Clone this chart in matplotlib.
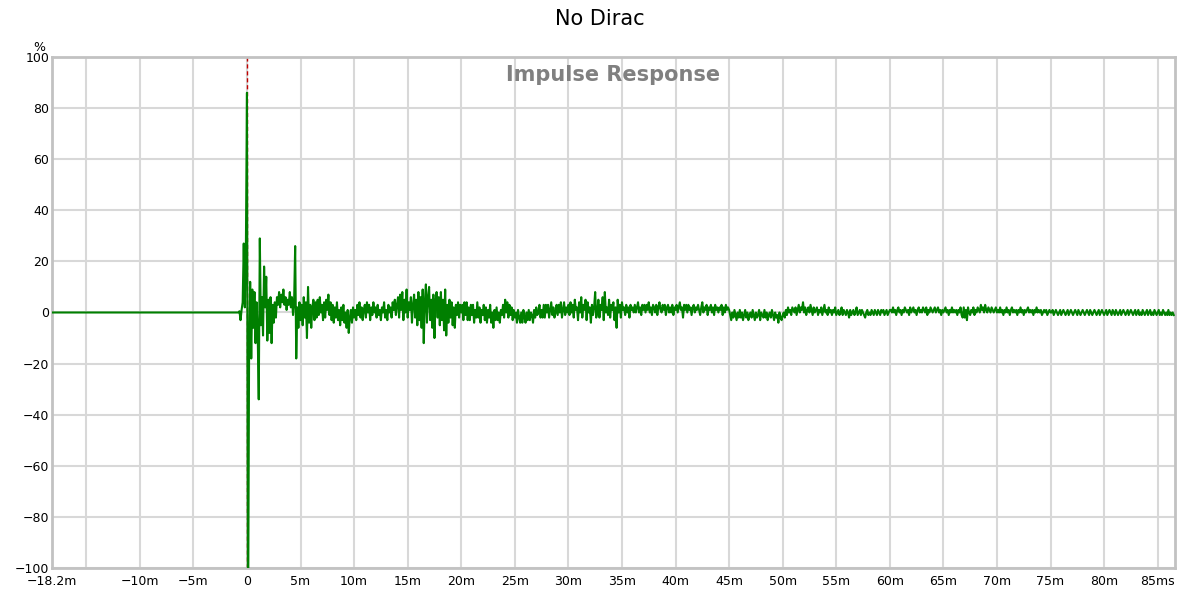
import numpy as np
import matplotlib
matplotlib.use("Agg")
import matplotlib.pyplot as plt

# impulse response, % of full scale
# flat lead-in before the arrival (time ms, value %)
pre_times = [-18.2, -0.8, -0.7, -0.6, -0.5, -0.4, -0.3, -0.2, -0.1]
pre_values = [0, 0, 0.5, -3, 1, 4, 27, 2, 25]

# from t = 0 ms on, one value every 0.1 ms
step_ms = 0.1
values = [
    # 0 - 10 ms
    86, -130, -14, 12, -18, 9, -6, 8, -12, 4,
    -8, -34, 29, -5, 6, -9, 18, 2, 14, -11,
    5, -8, 6, -12, 3, -4, 4, -2, 6, 3,
    8, 2, 7, 4, 9, 3, 6, 1, 5, 3,
    8, 2, 6, -1, 4, 26, -18, 2, -6, 4,
    -3, 3, -5, 6, -2, 4, -10, 10, -4, 3,
    -6, 2, 5, -3, 4, -2, 5, -1, 6, 0,
    3, -3, 4, -2, 5, 1, 7, -1, 4, -3,
    3, -4, 2, -2, 4, -3, 1, -5, 2, -3,
    3, -4, 0, -6, 1, -8, -2, 1, -4, 2,
    # 10 - 14 ms
    -2, 1, -3, 3, -1, 4, -2, 2, -3, 1,
    3, -2, 4, 0, 3, -3, 2, -1, 4, 0,
    2, -2, 3, -1, 1, -3, 2, 0, 4, -2,
    1, -3, 3, 0, 2, -2, 4, 1, 5, -1,
    # 14 - 20 ms
    3, 6, -2, 7, 1, 8, -3, 5, 0, 9,
    -2, 4, 1, 6, -4, 3, 7, -2, 5, -5,
    8, -3, 6, -6, 9, -12, 4, 11, -4, 6,
    10, -3, 5, -6, 7, -10, 4, 8, -2, 6,
    -5, 8, -3, 5, -7, 9, -9, 3, -4, 5,
    -2, 4, -5, 2, -6, 3, -1, 4, -2, 3,
    # 20 - 25 ms
    0, 3, -3, 4, -1, 4, -3, 2, -3, 3,
    -1, 3, -4, 1, -2, 4, -2, 2, -4, 1,
    -1, 3, -3, 2, -4, 1, -2, 3, -4, 0,
    -6, 1, -3, 2, -3, 0, -4, 1, -1, 3,
    -2, 5, 0, 4, -2, 3, -1, 2, -3, 1,
    # 25 - 30 ms
    -2, 0, -4, 1, -2, -4, 0, -4, 1, -2,
    -4, 0, -3, 1, -3, 0, -1, -4, 1, -2,
    2, -1, 0, 3, -2, 1, -2, 3, -2, 3,
    0, 3, -2, 1, 4, -1, 2, -2, 0, 3,
    -1, 3, 0, 4, -2, 1, 4, -1, 2, 0,
    # 30 - 36 ms
    3, -1, 4, 0, 3, -2, 5, 1, 2, -3,
    4, 0, 6, -2, 3, 1, 5, -3, 4, 0,
    2, -4, 3, -1, 2, 8, -2, 0, 5, -2,
    3, 1, 6, -3, 8, 0, 2, -1, 5, -2,
    3, 1, 4, -3, 2, -6, 5, 0, 3, -2,
    4, 1, 2, -1, 3, 0, 2, -2, 3, 1,
    # 36 - 45 ms
    2, 0, 3, 0, 2, 4, 0, 2, -1, 3,
    1, 3, 0, 3, 1, 4, 0, 2, -1, 3,
    2, 0, 3, -1, 2, 4, 1, 0, 3, 1,
    3, -1, 2, 3, 0, 2, 0, 3, -1, 2,
    1, 3, 0, 2, 4, 1, 2, -2, 3, 1,
    3, 0, 3, 1, 2, -1, 2, 3, 0, 2,
    1, 3, 1, -1, 2, 4, 0, 2, 1, 3,
    -1, 2, 1, 3, 0, 2, -1, 3, 1, 2,
    0, 2, 1, 3, -1, 2, 0, 3, 1, 2,
    # 45 - 50 ms
    1, -1, -3, 0, -2, 1, -1, -3, 0, -2,
    1, -2, 0, -3, -1, 1, -2, 0, -3, -1,
    0, -2, 1, -1, -3, 0, -2, -1, 1, -3,
    0, -1, -2, 1, -2, 0, -3, -1, 0, -2,
    1, -1, -3, 0, -2, -1, -4, 0, -2, -3,
    # 50 - 55 ms
    -1, 0, -2, 1, -1, 2, 0, 1, -1, 2,
    1, 0, 2, -1, 1, 3, 0, 2, 1, 4,
    0, 2, -1, 1, 2, 0, 3, 1, -1, 2,
    0, 1, 2, -1, 1, 0, 2, -1, 1, 3,
    0, 1, -1, 2, 0, 1, -1, 1, 0, 2,
    # 55 - 60 ms
    -1, 0, 1, -1, 0, 2, -1, 1, 0, -1,
    1, 0, -2, 1, -1, 0, 1, -1, 0, 2,
    -1, 0, 1, -1, 1, 0, -1, -2, 0, 1,
    -1, 0, -1, 1, 0, -1, 1, 0, -1, 1,
    0, -1, 1, 0, 1, -1, 0, 1, -1, 0,
    # 60 - 66 ms
    1, 1, 0, 2, 0, 1, -1, 1, 2, 0,
    1, -1, 1, 0, 2, 1, 0, 1, -1, 2,
    0, 1, 2, 0, 1, -1, 1, 2, 0, 1,
    0, 2, 1, 0, 2, -1, 1, 0, 2, 1,
    0, 1, 2, 0, 1, 2, 0, 1, -1, 1,
    0, 1, 2, 0, 1, -1, 1, 0, 2, 0,
    # 66 - 70 ms
    1, 0, 1, -1, 1, 0, 2, -1, -2, 2,
    -2, 1, -3, 2, 0, -1, 1, 0, 2, -1,
    1, 0, 2, 1, 0, 3, 1, 2, 0, 3,
    1, 0, 2, 1, 0, 2, 1, 0, 1, 2,
    # 70 - 75 ms
    0, 1, 0, 2, 0, 1, -1, 1, 0, 2,
    0, 1, -1, 1, 2, 0, 1, 0, 1, -1,
    1, 0, 2, 0, 1, -1, 1, 0, 1, 2,
    0, 1, 0, 1, -1, 1, 0, 2, 0, 1,
    0, 1, -1, 0, 1, 0, 1, -1, 0, 1,
    # 75 - 80 ms
    0, 0, 1, -1, 0, 1, 0, -1, 0, 1,
    -1, 0, 1, 0, -1, 0, 1, -1, 0, 1,
    0, -1, 0, 1, 0, -1, 1, 0, -1, 0,
    1, 0, -1, 0, 1, 0, -1, 1, 0, -1,
    0, 1, 0, -1, 0, 1, -1, 0, 1, 0,
    # 80 - 86.5 ms
    -1, 0, 1, -1, 0, 1, 0, -1, 1, 0,
    -1, 1, 0, -1, 0, 1, -1, 0, 1, 0,
    -1, 0, 1, -1, 0, 1, 0, -1, 0, 1,
    -1, 0, 1, -1, 0, -1, 1, 0, -1, 0,
    1, -1, 0, 1, -1, 0, -1, 1, 0, -1,
    0, 1, -1, 0, -1, 1, 0, -1, 0, -1,
    1, -1, 0, -1, 0, -1,
]

x_ticks = [-18.2, -15, -10, -5, 0, 5, 10, 15, 20, 25, 30, 35, 40,
           45, 50, 55, 60, 65, 70, 75, 80, 85]
x_labels = ["\u221218.2m", "", "\u221210m", "\u22125m", "0", "5m", "10m",
            "15m", "20m", "25m", "30m", "35m", "40m", "45m", "50m", "55m",
            "60m", "65m", "70m", "75m", "80m", "85ms"]
y_ticks = [-100, -80, -60, -40, -20, 0, 20, 40, 60, 80, 100]

t = np.concatenate([pre_times, np.arange(len(values)) * step_ms])
v = np.concatenate([pre_values, values])

fig = plt.figure(figsize=(12, 5.9), dpi=100)
ax = fig.add_axes([0.0433, 0.0373, 0.9357, 0.8661])

ax.axvline(0, color="#c00000", lw=1, ls=(0, (3, 2)), zorder=2)
ax.plot(t, v, color="#007f00", lw=1.5, zorder=3)

ax.set_xlim(-18.2, 86.6)
ax.set_ylim(-100, 100)
ax.set_xticks(x_ticks)
ax.set_xticklabels(x_labels)
ax.set_yticks(y_ticks)
ax.tick_params(axis="x", length=0, labelsize=9, pad=5)
ax.tick_params(axis="y", length=0, labelsize=9, pad=2)
ax.grid(color="#d8d8d8", lw=1.5)
ax.set_axisbelow(True)
for s in ax.spines.values():
    s.set_color("#c2c2c2")
    s.set_linewidth(2)

ax.text(-0.006, 1.005, "%", transform=ax.transAxes, ha="right",
        va="bottom", fontsize=9)
ax.text(0.5, 0.965, "Impulse Response", transform=ax.transAxes,
        ha="center", va="center", fontsize=15, fontweight="bold",
        color="#808080")
fig.suptitle("No Dirac", x=0.5, y=0.985, fontsize=15, va="top")

fig.savefig("out.png", dpi=100)
